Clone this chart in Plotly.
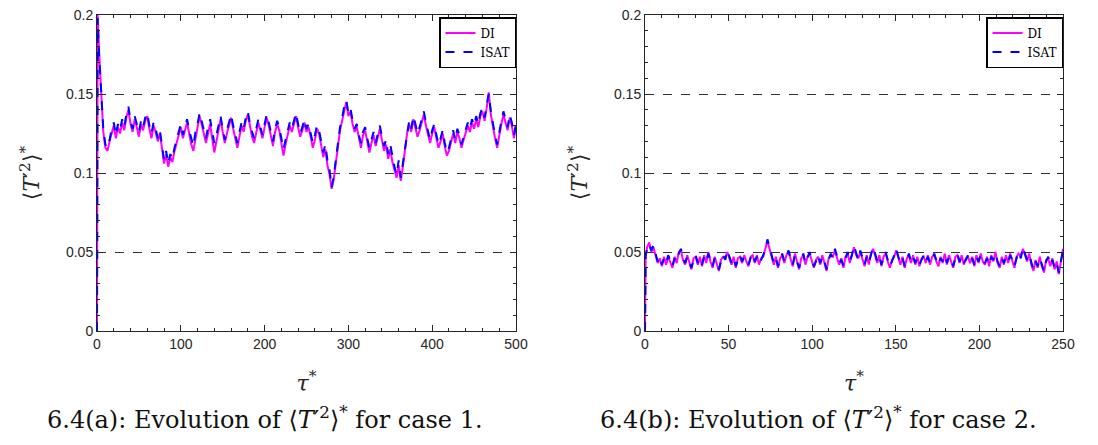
import numpy as np
import plotly.graph_objects as go

W, H = 1098, 445

# ---- data ----
isat_a = [0.0, 0.198, 0.175, 0.148, 0.128, 0.118, 0.116, 0.121, 0.128, 0.132, 0.124, 0.131, 0.127, 0.134,
          0.129, 0.137, 0.142, 0.133, 0.128, 0.136, 0.131, 0.126, 0.133, 0.129, 0.135, 0.138, 0.130, 0.125,
          0.132, 0.128, 0.122, 0.127, 0.118, 0.108, 0.114, 0.106, 0.112, 0.109, 0.116, 0.121, 0.126, 0.131,
          0.124, 0.129, 0.134, 0.127, 0.121, 0.117, 0.126, 0.131, 0.138, 0.133, 0.127, 0.122, 0.129, 0.134,
          0.126, 0.119, 0.124, 0.131, 0.136, 0.128, 0.121, 0.127, 0.133, 0.137, 0.130, 0.124, 0.119, 0.126,
          0.132, 0.128, 0.135, 0.139, 0.131, 0.126, 0.122, 0.128, 0.134, 0.129, 0.124, 0.131, 0.137, 0.132,
          0.126, 0.120, 0.128, 0.133, 0.129, 0.122, 0.115, 0.121, 0.127, 0.132, 0.128, 0.134, 0.138, 0.131,
          0.125, 0.129, 0.134, 0.128, 0.131, 0.125, 0.119, 0.124, 0.130, 0.127, 0.120, 0.113, 0.118, 0.108,
          0.102, 0.091, 0.098, 0.109, 0.121, 0.129, 0.135, 0.142, 0.146, 0.138, 0.141, 0.133, 0.128, 0.131,
          0.124, 0.119, 0.126, 0.129, 0.122, 0.116, 0.121, 0.126, 0.119, 0.124, 0.130, 0.123, 0.117, 0.121,
          0.112, 0.118, 0.110, 0.104, 0.099, 0.108, 0.097, 0.106, 0.118, 0.127, 0.133, 0.128, 0.136, 0.131,
          0.125, 0.129, 0.135, 0.139, 0.132, 0.126, 0.121, 0.127, 0.131, 0.124, 0.118, 0.122, 0.127, 0.119,
          0.113, 0.116, 0.122, 0.127, 0.121, 0.128, 0.124, 0.118, 0.123, 0.127, 0.132, 0.128, 0.134, 0.130,
          0.136, 0.131, 0.138, 0.141, 0.135, 0.143, 0.150, 0.139, 0.131, 0.124, 0.118, 0.126, 0.133, 0.139,
          0.134, 0.129, 0.137, 0.132, 0.124, 0.131]
di_a = [0.0, 0.2, 0.177, 0.146, 0.126, 0.116, 0.114, 0.12, 0.126, 0.13, 0.122, 0.129, 0.125, 0.132, 0.127,
        0.135, 0.14, 0.131, 0.126, 0.134, 0.129, 0.123, 0.131, 0.127, 0.133, 0.136, 0.128, 0.122, 0.13, 0.126,
        0.12, 0.125, 0.116, 0.106, 0.112, 0.104, 0.11, 0.107, 0.114, 0.119, 0.124, 0.129, 0.122, 0.127, 0.132,
        0.125, 0.118, 0.114, 0.123, 0.129, 0.136, 0.131, 0.125, 0.119, 0.126, 0.131, 0.122, 0.113, 0.12, 0.128,
        0.134, 0.126, 0.119, 0.125, 0.131, 0.135, 0.128, 0.121, 0.116, 0.123, 0.13, 0.126, 0.133, 0.137, 0.129,
        0.123, 0.119, 0.126, 0.132, 0.127, 0.122, 0.129, 0.135, 0.13, 0.124, 0.117, 0.126, 0.131, 0.127, 0.119,
        0.111, 0.118, 0.125, 0.13, 0.126, 0.132, 0.136, 0.129, 0.123, 0.127, 0.132, 0.126, 0.129, 0.123, 0.116,
        0.121, 0.128, 0.125, 0.117, 0.11, 0.115, 0.105, 0.099, 0.09, 0.096, 0.106, 0.118, 0.127, 0.133, 0.14,
        0.145, 0.136, 0.139, 0.131, 0.126, 0.129, 0.122, 0.116, 0.124, 0.127, 0.12, 0.113, 0.119, 0.124, 0.117,
        0.122, 0.128, 0.121, 0.114, 0.118, 0.109, 0.115, 0.107, 0.102, 0.097, 0.105, 0.095, 0.104, 0.116,
        0.125, 0.131, 0.126, 0.134, 0.129, 0.123, 0.127, 0.133, 0.137, 0.13, 0.124, 0.119, 0.125, 0.129, 0.122,
        0.116, 0.12, 0.125, 0.117, 0.111, 0.114, 0.12, 0.125, 0.119, 0.126, 0.122, 0.116, 0.121, 0.125, 0.13,
        0.126, 0.132, 0.128, 0.134, 0.129, 0.136, 0.139, 0.133, 0.141, 0.151, 0.137, 0.129, 0.122, 0.116,
        0.124, 0.131, 0.137, 0.132, 0.127, 0.135, 0.13, 0.122, 0.129]

isat_b = [0.0, 0.048, 0.052, 0.055, 0.051, 0.054, 0.049, 0.044, 0.047, 0.042, 0.046, 0.043, 0.048, 0.045,
          0.041, 0.046, 0.044, 0.049, 0.052, 0.046, 0.043, 0.047, 0.044, 0.040, 0.045, 0.048, 0.043, 0.046,
          0.042, 0.047, 0.044, 0.049, 0.045, 0.041, 0.046, 0.043, 0.039, 0.044, 0.048, 0.045, 0.051, 0.047,
          0.043, 0.046, 0.041, 0.045, 0.048, 0.044, 0.047, 0.045, 0.042, 0.046, 0.049, 0.044, 0.047, 0.043,
          0.045, 0.048, 0.052, 0.058, 0.053, 0.047, 0.043, 0.046, 0.041, 0.045, 0.049, 0.044, 0.047, 0.051,
          0.046, 0.042, 0.048, 0.044, 0.040, 0.045, 0.049, 0.043, 0.046, 0.050, 0.045, 0.041, 0.044, 0.048,
          0.043, 0.047, 0.044, 0.039, 0.045, 0.049, 0.046, 0.052, 0.047, 0.043, 0.045, 0.041, 0.046, 0.050,
          0.044, 0.048, 0.054, 0.049, 0.045, 0.051, 0.046, 0.042, 0.047, 0.043, 0.048, 0.053, 0.049, 0.044,
          0.047, 0.042, 0.046, 0.050, 0.045, 0.041, 0.044, 0.048, 0.052, 0.047, 0.043, 0.046, 0.041, 0.045,
          0.049, 0.044, 0.047, 0.043, 0.046, 0.042, 0.045, 0.048, 0.044, 0.047, 0.043, 0.046, 0.049, 0.045,
          0.042, 0.046, 0.044, 0.048, 0.043, 0.047, 0.045, 0.041, 0.046, 0.049, 0.044, 0.047, 0.043, 0.045,
          0.048, 0.044, 0.046, 0.042, 0.047, 0.044, 0.048, 0.045, 0.043, 0.046, 0.042, 0.047, 0.045, 0.049,
          0.044, 0.041, 0.046, 0.043, 0.047, 0.044, 0.048, 0.045, 0.041, 0.046, 0.050, 0.046, 0.053, 0.049,
          0.045, 0.048, 0.043, 0.039, 0.044, 0.041, 0.046, 0.042, 0.038, 0.044, 0.047, 0.042, 0.045, 0.040,
          0.043, 0.037, 0.044, 0.051]
di_b = [0.0, 0.047, 0.053, 0.056, 0.050, 0.053, 0.048, 0.043, 0.046, 0.041, 0.047, 0.042, 0.047, 0.044,
        0.040, 0.047, 0.043, 0.050, 0.051, 0.045, 0.042, 0.048, 0.043, 0.039, 0.046, 0.047, 0.042, 0.047,
        0.041, 0.048, 0.043, 0.050, 0.044, 0.040, 0.047, 0.042, 0.038, 0.045, 0.047, 0.046, 0.050, 0.046,
        0.042, 0.047, 0.040, 0.046, 0.047, 0.043, 0.048, 0.044, 0.041, 0.047, 0.048, 0.043, 0.048, 0.042,
        0.046, 0.047, 0.053, 0.057, 0.052, 0.046, 0.042, 0.047, 0.040, 0.046, 0.048, 0.043, 0.048, 0.050,
        0.045, 0.041, 0.049, 0.043, 0.039, 0.046, 0.048, 0.042, 0.047, 0.049, 0.044, 0.040, 0.045, 0.047,
        0.042, 0.048, 0.043, 0.038, 0.046, 0.048, 0.047, 0.051, 0.046, 0.042, 0.046, 0.040, 0.047, 0.049,
        0.043, 0.049, 0.053, 0.048, 0.046, 0.050, 0.045, 0.041, 0.048, 0.042, 0.049, 0.052, 0.048, 0.043,
        0.048, 0.041, 0.047, 0.049, 0.044, 0.040, 0.045, 0.047, 0.051, 0.046, 0.042, 0.047, 0.040, 0.046,
        0.048, 0.043, 0.048, 0.042, 0.047, 0.041, 0.046, 0.047, 0.043, 0.048, 0.042, 0.047, 0.048, 0.044,
        0.041, 0.047, 0.043, 0.049, 0.042, 0.048, 0.044, 0.040, 0.047, 0.048, 0.043, 0.048, 0.042, 0.046,
        0.047, 0.043, 0.047, 0.041, 0.048, 0.043, 0.049, 0.044, 0.042, 0.047, 0.041, 0.048, 0.044, 0.050,
        0.043, 0.040, 0.047, 0.042, 0.048, 0.043, 0.049, 0.044, 0.040, 0.047, 0.049, 0.047, 0.052, 0.048,
        0.044, 0.049, 0.042, 0.038, 0.045, 0.040, 0.047, 0.041, 0.037, 0.045, 0.046, 0.041, 0.046, 0.039,
        0.044, 0.036, 0.045, 0.052]

xticks_a = [0, 100, 200, 300, 400, 500]
xticks_b = [0, 50, 100, 150, 200, 250]
yticks = [0, 0.05, 0.1, 0.15, 0.2]
ytick_text = ["0", "0.05", "0.1", "0.15", "0.2"]


def times(vals, tmax):
    # first point at t=0, second just after, rest evenly spread to tmax
    n = len(vals)
    return [0.0, tmax * 0.0016] + list(np.linspace(tmax / (n - 2), tmax, n - 2))


MAG = "#ff00ff"
BLUE = "#0000ff"
AX = "#262626"
LW = 2.0

fig = go.Figure()
fig.add_trace(go.Scatter(x=times(di_a, 500), y=di_a, name="DI", mode="lines",
                         line=dict(color=MAG, width=LW), xaxis="x", yaxis="y", legend="legend"))
fig.add_trace(go.Scatter(x=times(isat_a, 500), y=isat_a, name="ISAT", mode="lines",
                         line=dict(color=BLUE, width=LW, dash="dash"), xaxis="x", yaxis="y", legend="legend"))
fig.add_trace(go.Scatter(x=times(di_b, 250), y=di_b, name="DI", mode="lines",
                         line=dict(color=MAG, width=LW), xaxis="x2", yaxis="y2", legend="legend2"))
fig.add_trace(go.Scatter(x=times(isat_b, 250), y=isat_b, name="ISAT", mode="lines",
                         line=dict(color=BLUE, width=LW, dash="dash"), xaxis="x2", yaxis="y2", legend="legend2"))

tickfont = dict(family="Liberation Sans, Arial", size=14, color=AX)
ytitle = "⟨<i>T</i>′<sup>2</sup>⟩<sup>*</sup>"
xtitle = "<i>τ</i><sup>*</sup>"
titlefont = dict(family="DejaVu Serif", size=22, color=AX)

ydom = [(H - 331) / H, (H - 15) / H]


def xaxis(dom, rng, ticks, minor, anchor):
    return dict(domain=dom, range=rng, tickvals=ticks, ticks="inside", ticklen=6, tickwidth=1,
                tickcolor=AX, showline=True, linecolor=AX, linewidth=1, mirror="ticks",
                showgrid=False, zeroline=False, tickfont=tickfont, anchor=anchor, automargin=False,
                minor=dict(dtick=minor, ticks="inside", ticklen=3, tickcolor=AX, showgrid=False),
                title=dict(text=xtitle, font=titlefont, standoff=24))


def yaxis(anchor):
    return dict(domain=ydom, range=[0, 0.2], tickvals=yticks, ticktext=ytick_text, ticks="inside",
                ticklen=6, tickwidth=1, tickcolor=AX, showline=True, linecolor=AX, linewidth=1,
                mirror="ticks", showgrid=True, gridcolor="#333333", griddash="dash", gridwidth=1,
                zeroline=False, tickfont=tickfont, anchor=anchor, automargin=False,
                minor=dict(dtick=0.01, ticks="inside", ticklen=3, tickcolor=AX, showgrid=False),
                title=dict(text=ytitle, font=titlefont, standoff=20))


legstyle = dict(bgcolor="white", bordercolor="black", borderwidth=1.5,
                font=dict(family="DejaVu Serif", size=12, color="black"),
                xanchor="right", yanchor="top", tracegroupgap=0, itemwidth=30)

capfont = dict(family="DejaVu Serif", size=24, color="#111")

fig.update_layout(
    width=W, height=H, margin=dict(l=0, r=0, t=0, b=0, autoexpand=False),
    paper_bgcolor="white", plot_bgcolor="white",
    xaxis=xaxis([97 / W, 516 / W], [0, 500], xticks_a, 20, "y"),
    yaxis=yaxis("x"),
    xaxis2=xaxis([645 / W, 1063 / W], [0, 250], xticks_b, 10, "y2"),
    yaxis2=yaxis("x2"),
    legend=dict(x=516 / W, y=(H - 17) / H, **legstyle),
    legend2=dict(x=1063 / W, y=(H - 17) / H, **legstyle),
    annotations=[
        dict(text="6.4(a): Evolution of ⟨<i>T</i>′<sup>2</sup>⟩<sup>*</sup> for case 1.",
             x=265 / W, y=(H - 418) / H, xref="paper", yref="paper", showarrow=False,
             xanchor="center", yanchor="middle", font=capfont),
        dict(text="6.4(b): Evolution of ⟨<i>T</i>′<sup>2</sup>⟩<sup>*</sup> for case 2.",
             x=818 / W, y=(H - 418) / H, xref="paper", yref="paper", showarrow=False,
             xanchor="center", yanchor="middle", font=capfont),
    ],
)

fig.write_html("out.html")
